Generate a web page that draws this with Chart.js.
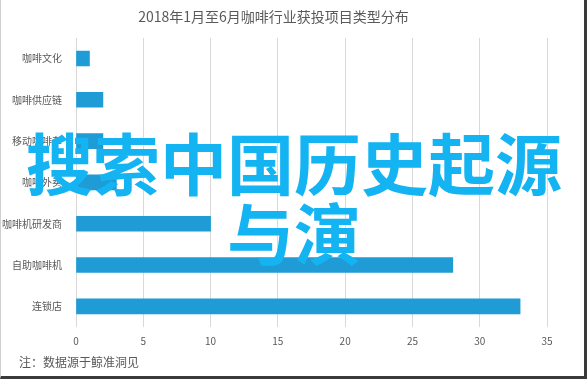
<!DOCTYPE html>
<html>
<head>
<meta charset="utf-8">
<script src="https://cdn.jsdelivr.net/npm/chart.js@4"></script>
<style>
  body { margin: 0; background: #fff; }
  #wrap { position: relative; width: 587px; height: 379px; overflow: hidden; background: #fff; }
  #frame { position: absolute; left: 0; top: 0; width: 583px; height: 376px; border-left: 1px solid #d0d0d0; border-right: 3px solid #3a3a3a; border-bottom: 3px solid #3a3a3a; box-sizing: content-box; pointer-events: none; }
  #note { position: absolute; left: 19px; top: 353px; font: 12px "Noto Sans CJK SC", sans-serif; color: #595959; }
  #overlay { position: absolute; left: -3px; top: 126px; width: 594px; text-align: center; font: bold 67px/70px "Noto Sans CJK SC", sans-serif; color: #14b4f3; }
</style>
</head>
<body>
<div id="wrap">
  <canvas id="chart" width="587" height="379"></canvas>
  <div id="note">注：数据源于鲸准洞见</div>
  <div id="overlay">搜索中国历史起源<br>与演</div>
  <div id="frame"></div>
</div>
<script>
const categories = ["咖啡文化", "咖啡供应链", "移动咖啡车", "咖啡外卖", "咖啡机研发商", "自助咖啡机", "连锁店"];
const projectCounts = [1, 2, 2, 3, 10, 28, 33];
const xTicks = [0, 5, 10, 15, 20, 25, 30, 35];

const font = "'Noto Sans CJK SC', sans-serif";

new Chart(document.getElementById("chart"), {
  type: "bar",
  data: {
    labels: categories,
    datasets: [{
      label: "项目数",
      data: projectCounts,
      backgroundColor: "#1f9bd6",
      barThickness: 15
    }]
  },
  options: {
    indexAxis: "y",
    responsive: false,
    animation: false,
    layout: { padding: { left: 0, right: 40, top: 0, bottom: 24 } },
    plugins: {
      legend: { display: false },
      tooltip: { enabled: false },
      title: {
        display: true,
        text: "2018年1月至6月咖啡行业获投项目类型分布",
        color: "#595959",
        font: { family: font, size: 14, weight: "normal" },
        padding: { top: 8, bottom: 13 }
      }
    },
    scales: {
      x: {
        min: 0,
        max: 35,
        afterBuildTicks: s => { s.ticks = xTicks.map(v => ({ value: v })); },
        grid: { color: "#d9d9d9", drawTicks: false },
        border: { display: false },
        ticks: { color: "#595959", font: { family: font, size: 10 }, padding: 8 }
      },
      y: {
        afterFit: s => { s.width = 76; },
        grid: { display: false },
        border: { display: false },
        ticks: { color: "#595959", font: { family: font, size: 10 }, padding: 6 }
      }
    }
  }
});
</script>
</body>
</html>
